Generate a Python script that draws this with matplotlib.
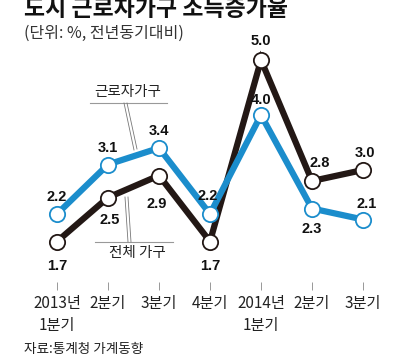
import matplotlib
matplotlib.use('Agg')
import matplotlib.pyplot as plt
from matplotlib import font_manager

# data
quarters = ['2013년\n1분기', '2분기', '3분기', '4분기', '2014년\n1분기', '2분기', '3분기']
worker = [2.2, 3.1, 3.4, 2.2, 4.0, 2.3, 2.1]   # 근로자가구
total = [1.7, 2.5, 2.9, 1.7, 5.0, 2.8, 3.0]    # 전체 가구

KR = 'Noto Sans CJK KR'
names = {f.name for f in font_manager.fontManager.ttflist}
NUM = 'Liberation Sans Narrow' if 'Liberation Sans Narrow' in names else 'Liberation Sans'

BLUE = '#1b8dcc'
BLACK = '#231815'

W, H = 393, 364
fig = plt.figure(figsize=(W / 100, H / 100), dpi=100)
fig.patch.set_facecolor('white')

# axes: pixel y 0..282, point i at x = 57 + 51*i, value v at y = 60 + (5-v)*55
ax = fig.add_axes([0, (H - 282) / H, 1, 282 / H])
ax.set_xlim(-57 / 51, (W - 57) / 51)
ax.set_ylim(5 - (282 - 60) / 55, 5 + 60 / 55)
for s in ax.spines.values():
    s.set_visible(False)
ax.set_yticks([])
x = list(range(len(quarters)))
ax.set_xticks(x)
ax.set_xticklabels(quarters, fontfamily=KR, fontsize=11, color='#222222', linespacing=1.35)
ax.tick_params(axis='x', direction='out', length=5.5, width=0.6, color='#888888', pad=4)
ax.set_facecolor('none')

ax.plot(x, total, color=BLACK, lw=4.5, zorder=2, solid_joinstyle='miter')
ax.plot(x, total, 'o', ms=11, mfc='white', mec=BLACK, mew=1.3, zorder=3)
ax.plot(x, worker, color=BLUE, lw=4.5, zorder=4, solid_joinstyle='miter')
ax.plot(x, worker, 'o', ms=11, mfc='white', mec=BLUE, mew=1.3, zorder=5)

ppu = 55.0  # pixels per unit

def lab(i, v, dx, dy):
    # dx, dy offsets in pixels (dy positive = up)
    ax.annotate(f'{v:.1f}', (i, v), xytext=(dx * 0.72, dy * 0.72), textcoords='offset points',
                ha='center', va='center', fontsize=10.5, fontweight='bold',
                fontfamily=NUM, color='#111111', zorder=6)

w_off = [(0, 17), (0, 16), (0, 17), (-2, 18), (0, 15), (0, -20), (4, 15)]
t_off = [(0, -24), (2, -22), (-2, -28), (0, -24), (0, 19), (8, 18), (2, 17)]
for i, (v, o) in enumerate(zip(worker, w_off)):
    lab(i, v, *o)
for i, (v, o) in enumerate(zip(total, t_off)):
    lab(i, v, *o)

# series labels with leader lines (pixel -> data)
def px(xp):
    return (xp - 57) / 51

def py(yp):
    return 5 - (yp - 60) / ppu

ax.text(px(128), py(92), '근로자가구', fontfamily=KR, fontsize=10.5, ha='center', va='center',
        color='#222222', zorder=6)
ax.plot([px(90), px(167)], [py(103), py(103)], color='#999999', lw=0.8, zorder=1)
ax.plot([px(124), px(134)], [py(103), py(150)], color='#777777', lw=0.6, zorder=1)
ax.plot([px(127), px(137)], [py(103), py(149)], color='#777777', lw=0.6, zorder=1)

ax.text(px(137), py(253), '전체 가구', fontfamily=KR, fontsize=10.5, ha='center', va='center',
        color='#222222', zorder=6)
ax.plot([px(95), px(173)], [py(242), py(242)], color='#999999', lw=0.8, zorder=1)
ax.plot([px(125), px(128)], [py(197), py(242)], color='#777777', lw=0.6, zorder=1)
ax.plot([px(128), px(131)], [py(197), py(242)], color='#777777', lw=0.6, zorder=1)

# titles
fig.text(24 / W, 1 - 10 / H, '도시 근로자가구 소득증가율', fontfamily=KR, fontsize=16.5,
         fontweight='heavy', color='#111111', ha='left', va='center')
fig.text(24 / W, 1 - 33 / H, '(단위: %, 전년동기대비)', fontfamily=KR, fontsize=11.5,
         color='#333333', ha='left', va='center')
fig.text(24 / W, 1 - 349 / H, '자료:통계청 가계동향', fontfamily=KR, fontsize=9.8,
         color='#222222', ha='left', va='center')

fig.savefig('out.png', dpi=100, facecolor='white')
